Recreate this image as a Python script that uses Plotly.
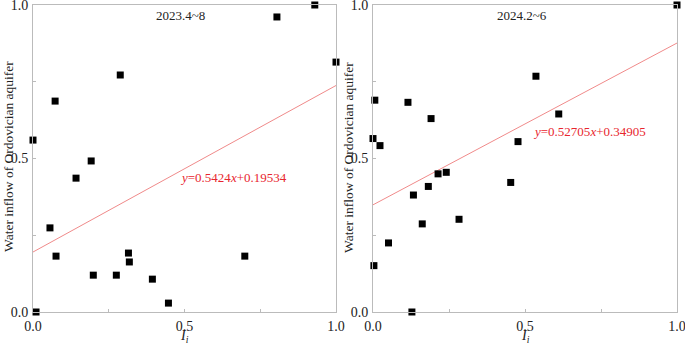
import plotly.graph_objects as go

# Left panel: 2023.4~8
x_2023 = [0.0, 0.01, 0.056, 0.073, 0.076, 0.142, 0.192, 0.199, 0.288, 0.275,
          0.315, 0.318, 0.394, 0.447, 0.699, 0.805, 0.930, 1.0]
y_2023 = [0.560, 0.0, 0.274, 0.687, 0.182, 0.436, 0.492, 0.120, 0.772, 0.120,
          0.192, 0.163, 0.107, 0.029, 0.182, 0.961, 1.0, 0.814]
fit_2023 = (0.5424, 0.19534)

# Right panel: 2024.2~6
x_2024 = [1.0, 0.536, 0.006, 0.115, 0.191, 0.611, 0.0, 0.023, 0.477, 0.214,
          0.241, 0.182, 0.133, 0.453, 0.162, 0.283, 0.051, 0.003, 0.128]
y_2024 = [1.0, 0.768, 0.690, 0.683, 0.630, 0.645, 0.565, 0.542, 0.555, 0.450,
          0.455, 0.409, 0.381, 0.422, 0.287, 0.302, 0.225, 0.151, 0.0]
fit_2024 = (0.52705, 0.34905)

titles = ["2023.4~8", "2024.2~6"]
eq_texts = ["<i>y</i>=0.5424<i>x</i>+0.19534", "<i>y</i>=0.52705<i>x</i>+0.34905"]
tick_vals = [0, 0.25, 0.5, 0.75, 1.0]
tick_text = ["0.0", "", "0.5", "", "1.0"]

FONT = "Liberation Serif"
W, H = 685, 344


def px(p):
    return p / W


def py(p):
    return (H - p) / H


fig = go.Figure()

doms = [[px(33), px(336)], [px(373), px(677)]]
ydom = [py(312), py(5)]

panels = [(x_2023, y_2023, fit_2023), (x_2024, y_2024, fit_2024)]
for i, (xs, ys, (a, b)) in enumerate(panels):
    xa = "x" if i == 0 else "x2"
    ya = "y" if i == 0 else "y2"
    fig.add_trace(go.Scatter(x=[0, 1], y=[b, a + b], mode="lines",
                             line=dict(color="#f08a8a", width=1),
                             xaxis=xa, yaxis=ya, showlegend=False, hoverinfo="skip"))
    fig.add_trace(go.Scatter(x=xs, y=ys, mode="markers",
                             marker=dict(symbol="square", size=7, color="black"),
                             xaxis=xa, yaxis=ya, showlegend=False, cliponaxis=False))

axis_common = dict(range=[0, 1], tickvals=tick_vals, ticktext=tick_text,
                   ticks="inside", ticklen=3, tickcolor="#bbbbbb",
                   showline=True, linecolor="#bbbbbb", linewidth=1, mirror=True,
                   showgrid=False, zeroline=False, automargin=False,
                   ticklabeloverflow="allow",
                   tickfont=dict(family=FONT, size=14, color="#222"))

fig.update_layout(
    width=W, height=H, margin=dict(l=0, r=0, t=0, b=0, pad=0, autoexpand=False),
    paper_bgcolor="white", plot_bgcolor="white",
    xaxis=dict(domain=doms[0], anchor="y", ticklabelstandoff=1, **axis_common),
    yaxis=dict(domain=ydom, anchor="x", ticklabelstandoff=1, **axis_common),
    xaxis2=dict(domain=doms[1], anchor="y2", ticklabelstandoff=1, **axis_common),
    yaxis2=dict(domain=ydom, anchor="x2", ticklabelstandoff=1, **axis_common),
)

annots = []
title_x = [180, 521.5]
ytitle_x = [8, 348]
for i in range(2):
    annots.append(dict(text=titles[i], xref="paper", yref="paper",
                       x=px(title_x[i]), y=py(16),
                       xanchor="center", yanchor="middle",
                       showarrow=False, font=dict(family=FONT, size=13, color="#222")))
    annots.append(dict(text="Water inflow of Ordovician aquifer", xref="paper", yref="paper",
                       x=px(ytitle_x[i]), y=py(157), textangle=-90, showarrow=False,
                       xanchor="center", yanchor="middle",
                       font=dict(family=FONT, size=13.5, color="#222")))
    annots.append(dict(text="<i>I<sub>i</sub></i>", xref="paper", yref="paper",
                       x=(doms[i][0] + doms[i][1]) / 2, y=py(336), showarrow=False,
                       xanchor="center", yanchor="middle",
                       font=dict(family=FONT, size=14, color="#222")))
eq_pos = [(233, 177), (589, 131)]
for i in range(2):
    annots.append(dict(text=eq_texts[i], xref="paper", yref="paper",
                       x=px(eq_pos[i][0]), y=py(eq_pos[i][1]), showarrow=False,
                       xanchor="center", yanchor="middle",
                       font=dict(family=FONT, size=13, color="#e8262e")))
fig.update_layout(annotations=annots)

fig.write_html("out.html",
               config={"displayModeBar": False, "staticPlot": True},
               post_script="document.body.style.margin='0';document.body.style.overflow='hidden';")
